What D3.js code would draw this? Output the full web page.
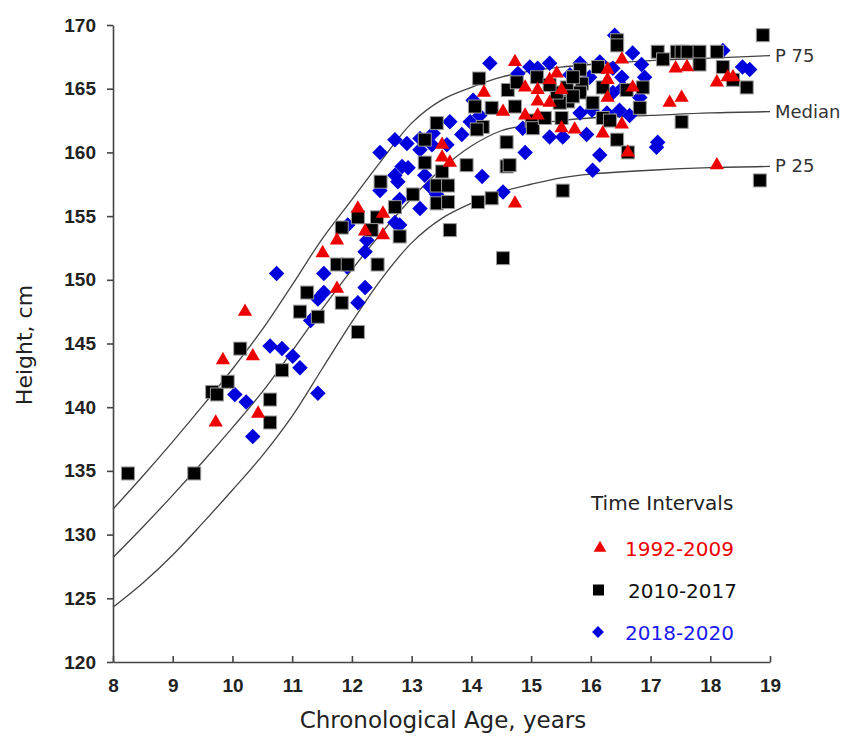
<!DOCTYPE html>
<html>
<head>
<meta charset="utf-8">
<script src="https://cdn.jsdelivr.net/npm/d3@7"></script>
<style>
  body { margin: 0; background: #fff; }
  text { font-family: "DejaVu Sans", Tahoma, sans-serif; }
  .tick text { font-family: "Liberation Sans", Arial, sans-serif; font-weight: bold; }
</style>
</head>
<body>
<svg id="chart" width="843" height="740"></svg>
<script>
// percentile reference curves
const curveAges = [8, 8.5, 9, 9.5, 10, 10.5, 11, 11.5, 12, 12.5, 13, 13.5, 14, 14.5, 15, 15.5, 16, 17, 18, 19];
const p75 = [132.0, 134.6, 137.3, 140.1, 143.0, 146.1, 149.6, 153.2, 156.3, 159.4, 162.3, 164.1, 165.1, 165.9, 166.4, 166.7, 166.9, 167.2, 167.4, 167.6];
const p50 = [128.2, 130.6, 133.1, 135.7, 138.4, 141.2, 144.4, 147.7, 150.8, 153.7, 156.4, 158.7, 160.5, 161.7, 162.2, 162.5, 162.7, 162.9, 163.1, 163.2];
const p25 = [124.3, 126.2, 128.4, 130.9, 133.5, 136.2, 139.3, 143.0, 146.7, 150.1, 152.9, 154.8, 156.0, 156.9, 157.5, 158.0, 158.3, 158.6, 158.8, 158.9];
const curveNames = ["P 75", "Median", "P 25"];

// 1992-2009
const redAge = [9.72, 9.84, 10.21, 10.34, 10.43, 11.51, 11.75, 11.75, 12.10, 12.22, 12.52, 12.52, 13.51, 13.51, 13.64, 14.21, 14.53, 14.73, 14.90, 15.11, 15.31, 15.43, 15.51, 15.11, 15.31, 14.90, 15.11, 15.51, 15.73, 16.20, 16.28, 16.28, 16.28, 14.73, 16.52, 16.70, 16.52, 16.62, 17.42, 17.61, 18.11, 18.29, 18.38, 17.32, 17.52, 18.11];
const redHt = [138.8, 143.7, 147.5, 144.0, 139.5, 152.1, 149.3, 153.1, 155.6, 153.8, 155.2, 153.5, 160.6, 159.6, 159.2, 164.7, 163.2, 167.1, 165.1, 164.9, 165.7, 166.2, 164.9, 164.0, 163.9, 162.9, 162.9, 161.9, 161.8, 161.5, 166.5, 165.7, 164.3, 156.0, 167.3, 165.1, 162.2, 160.0, 166.6, 166.7, 165.5, 165.9, 165.9, 163.9, 164.3, 159.0];

// 2010-2017
const blackAge = [8.25, 9.36, 9.66, 9.74, 9.92, 10.13, 10.63, 10.63, 10.83, 11.13, 11.25, 11.43, 11.83, 12.10, 11.75, 11.93, 12.43, 11.83, 12.10, 12.42, 12.48, 13.42, 13.22, 13.22, 13.51, 13.42, 13.61, 13.42, 13.61, 13.92, 13.02, 12.72, 12.33, 12.80, 13.64, 14.13, 14.19, 14.09, 14.06, 14.34, 14.73, 14.61, 14.76, 15.10, 15.01, 15.03, 15.23, 14.59, 14.59, 14.64, 15.82, 15.85, 15.82, 15.62, 15.48, 15.43, 15.60, 15.31, 15.51, 16.03, 16.12, 16.20, 16.32, 16.44, 16.44, 16.44, 15.53, 14.53, 14.11, 14.34, 17.12, 17.21, 17.44, 17.52, 17.62, 17.82, 17.82, 18.11, 18.21, 18.88, 18.83, 18.61, 18.38, 17.52, 16.82, 16.87, 16.60, 16.62, 16.20, 15.70, 15.70];
const blackHt = [134.8, 134.8, 141.2, 141.0, 142.0, 144.6, 140.6, 138.8, 142.9, 147.5, 149.0, 147.1, 148.2, 145.9, 151.2, 151.2, 151.2, 154.1, 154.9, 154.9, 157.7, 162.3, 161.0, 159.2, 158.5, 157.4, 157.4, 156.0, 156.1, 159.0, 156.7, 155.7, 153.9, 153.4, 153.9, 165.8, 162.0, 161.8, 163.6, 163.5, 163.6, 164.9, 165.5, 165.9, 162.5, 161.9, 162.7, 160.8, 158.9, 159.0, 166.5, 165.4, 164.7, 164.0, 163.9, 164.7, 165.1, 165.3, 162.7, 163.9, 166.7, 162.7, 162.5, 161.0, 168.8, 168.4, 157.0, 151.7, 156.1, 156.4, 167.9, 167.3, 167.9, 167.9, 167.9, 167.9, 166.9, 167.9, 166.7, 169.2, 157.8, 165.1, 165.7, 162.4, 163.5, 165.1, 164.9, 160.0, 165.1, 165.9, 164.4];

// 2018-2020
const blueAge = [10.74, 10.63, 10.83, 11.01, 11.13, 10.04, 10.23, 10.34, 11.43, 11.53, 11.53, 11.43, 11.31, 12.22, 12.10, 12.22, 11.92, 12.47, 11.93, 12.25, 12.72, 12.92, 13.14, 13.36, 13.64, 13.84, 13.59, 13.14, 12.84, 12.94, 12.72, 12.77, 13.22, 13.31, 13.14, 12.80, 12.72, 12.80, 12.47, 13.42, 16.40, 15.31, 14.98, 14.78, 15.11, 14.31, 15.82, 16.15, 13.98, 14.14, 14.86, 15.31, 15.53, 15.93, 16.15, 16.03, 14.90, 14.18, 14.53, 13.34, 14.03, 15.65, 15.98, 15.82, 16.02, 16.27, 16.37, 16.70, 16.85, 16.90, 16.54, 16.82, 16.65, 18.54, 18.66, 17.12, 17.10, 16.37, 16.52, 18.21, 16.48];
const blueHt = [150.5, 144.8, 144.6, 144.0, 143.1, 141.0, 140.4, 137.7, 141.1, 150.5, 149.0, 148.5, 146.8, 149.4, 148.2, 152.2, 151.0, 160.0, 154.3, 153.1, 161.0, 160.7, 161.1, 161.5, 162.4, 161.4, 160.6, 160.2, 158.9, 158.8, 158.2, 157.7, 158.2, 157.3, 155.6, 156.3, 154.5, 154.3, 157.0, 156.7, 169.2, 167.0, 166.7, 166.2, 166.6, 167.0, 167.0, 167.1, 162.4, 162.9, 161.9, 161.2, 161.2, 161.4, 159.8, 158.6, 160.0, 158.1, 156.9, 160.6, 164.1, 166.1, 165.9, 163.1, 163.3, 163.1, 164.7, 167.8, 166.9, 165.9, 165.1, 164.3, 162.9, 166.7, 166.5, 160.8, 160.4, 166.6, 165.9, 168.0, 163.3];

const seriesNames = ["1992-2009", "2010-2017", "2018-2020"];
const xTicks = [8, 9, 10, 11, 12, 13, 14, 15, 16, 17, 18, 19];
const yTicks = [120, 125, 130, 135, 140, 145, 150, 155, 160, 165, 170];

const svg = d3.select("#chart");
const x = d3.scaleLinear().domain([8, 19]).range([113, 770]);
const y = d3.scaleLinear().domain([120, 170]).range([662, 25]);

// axes
const yAxis = svg.append("g")
  .attr("transform", "translate(113,0)")
  .call(d3.axisLeft(y).tickValues(yTicks).tickSizeInner(6).tickSizeOuter(0).tickPadding(11));
const xAxis = svg.append("g")
  .attr("transform", "translate(0,662)")
  .call(d3.axisBottom(x).tickValues(xTicks).tickSizeInner(-6).tickSizeOuter(0).tickPadding(17));
[xAxis, yAxis].forEach(a => {
  a.select(".domain").attr("stroke", "#444").attr("stroke-width", 1.6);
  a.selectAll(".tick line").attr("stroke", "#444").attr("stroke-width", 1.6);
  a.selectAll(".tick text").attr("fill", "#222").attr("font-size", 19);
});

svg.append("text")
  .attr("transform", "translate(32,345) rotate(-90)")
  .attr("text-anchor", "middle")
  .attr("font-size", 22)
  .attr("fill", "#222")
  .text("Height, cm");
svg.append("text")
  .attr("x", 443).attr("y", 728)
  .attr("text-anchor", "middle")
  .attr("font-size", 23)
  .attr("fill", "#222")
  .text("Chronological Age, years");

// percentile curves
const line = d3.line()
  .x(d => x(d[0]))
  .y(d => y(d[1]))
  .curve(d3.curveCatmullRom);
[p75, p50, p25].forEach((vals, i) => {
  const pts = curveAges.map((a, j) => [a, vals[j]]);
  svg.append("path")
    .attr("d", line(pts))
    .attr("fill", "none")
    .attr("stroke", "#444")
    .attr("stroke-width", 1.3);
  svg.append("text")
    .attr("x", x(19) + 5)
    .attr("y", y(vals[vals.length - 1]) + 6)
    .attr("font-size", 18)
    .attr("fill", "#333")
    .text(curveNames[i]);
});

// marker shapes
const diamondType = {
  draw(ctx, size) {
    const r = Math.sqrt(size / 2);
    ctx.moveTo(0, -r); ctx.lineTo(r, 0); ctx.lineTo(0, r); ctx.lineTo(-r, 0); ctx.closePath();
  }
};
const triPath = d3.symbol().type(d3.symbolTriangle).size(88)();
const diaPath = d3.symbol().type(diamondType).size(120)();

const zip = (a, b) => a.map((v, i) => [v, b[i]]);

// blue first, black over it, red on top
svg.append("g").selectAll("path")
  .data(zip(blueAge, blueHt)).enter().append("path")
  .attr("d", diaPath)
  .attr("transform", d => `translate(${x(d[0])},${y(d[1])})`)
  .attr("fill", "#0000dd");

svg.append("g").selectAll("rect")
  .data(zip(blackAge, blackHt)).enter().append("rect")
  .attr("x", d => x(d[0]) - 6.5)
  .attr("y", d => y(d[1]) - 6.5)
  .attr("width", 13).attr("height", 13)
  .attr("fill", "#000")
  .attr("stroke", "#999")
  .attr("stroke-width", 1);

svg.append("g").selectAll("path")
  .data(zip(redAge, redHt)).enter().append("path")
  .attr("d", triPath)
  .attr("transform", d => `translate(${x(d[0])},${y(d[1])})`)
  .attr("fill", "#ee0000");

// legend
const legend = svg.append("g");
legend.append("text")
  .attr("x", 591).attr("y", 510)
  .attr("font-size", 20).attr("fill", "#222")
  .text("Time Intervals");
const legendColors = ["#ee0000", "#111", "#1a1aee"];
seriesNames.forEach((name, i) => {
  const cy = 548 + i * 42;
  if (i === 0) {
    legend.append("path").attr("d", d3.symbol().type(d3.symbolTriangle).size(70)())
      .attr("transform", `translate(600,${cy})`).attr("fill", "#ee0000");
  } else if (i === 1) {
    legend.append("rect").attr("x", 593).attr("y", cy - 5.5)
      .attr("width", 11).attr("height", 11).attr("fill", "#000");
  } else {
    legend.append("path").attr("d", d3.symbol().type(diamondType).size(70)())
      .attr("transform", `translate(598,${cy})`).attr("fill", "#0000dd");
  }
  legend.append("text")
    .attr("x", i === 1 ? 628 : 625).attr("y", cy + 8)
    .attr("font-size", 20).attr("fill", legendColors[i])
    .text(name);
});
</script>
</body>
</html>
